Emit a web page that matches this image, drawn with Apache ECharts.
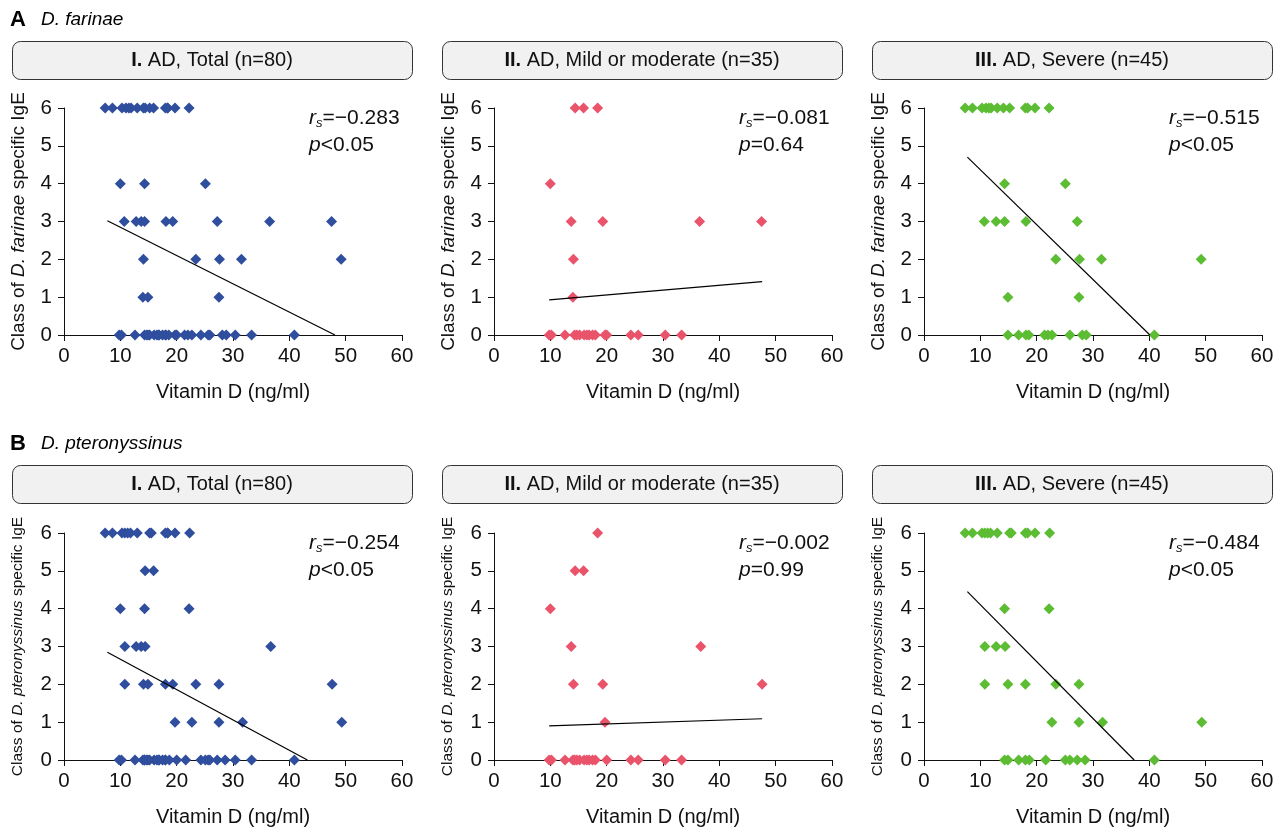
<!DOCTYPE html>
<html>
<head>
<meta charset="utf-8">
<script src="https://cdn.jsdelivr.net/npm/echarts@6/dist/echarts.min.js"></script>
<style>
html,body{margin:0;padding:0;background:#fff;}
#c{width:1285px;height:829px;}
</style>
</head>
<body>
<div id="c"></div>
<script>
// ---------- data ----------
const xTicks = [0, 10, 20, 30, 40, 50, 60];
const yTicks = [0, 1, 2, 3, 4, 5, 6];

// D. farinae — [vitamin D (ng/ml), IgE class]
const dfMild = [
  [14.4,6],[15.9,6],[18.4,6],
  [10.0,4],
  [13.7,3],[19.3,3],[36.5,3],[47.5,3],
  [14.1,2],
  [14.0,1],
  [9.8,0],[10.2,0],[12.6,0],[14.3,0],[14.7,0],[15.2,0],[16.0,0],[16.5,0],[16.9,0],
  [17.5,0],[18.0,0],[19.7,0],[20.0,0],[24.3,0],[25.6,0],[30.4,0],[33.3,0]
];
const dfSevere = [
  [7.3,6],[8.6,6],[10.3,6],[11.0,6],[11.5,6],[11.9,6],[13.0,6],[14.1,6],[15.2,6],
  [18.0,6],[18.4,6],[19.7,6],[22.2,6],
  [14.3,4],[25.1,4],
  [10.7,3],[12.8,3],[14.3,3],[18.1,3],[27.2,3],
  [23.4,2],[27.6,2],[31.5,2],[49.2,2],
  [14.9,1],[27.5,1],
  [14.9,0],[16.8,0],[18.1,0],[18.6,0],[21.4,0],[22.0,0],[22.7,0],[25.9,0],[28.1,0],[28.8,0],[40.9,0]
];
// D. pteronyssinus
const dpMild = [
  [18.4,6],
  [14.4,5],[15.9,5],
  [10.0,4],
  [13.7,3],[36.7,3],
  [14.1,2],[19.3,2],[47.6,2],
  [19.7,1],
  [9.8,0],[10.2,0],[12.6,0],[14.0,0],[14.3,0],[14.7,0],[15.2,0],[16.0,0],[16.5,0],
  [16.9,0],[17.5,0],[18.0,0],[20.0,0],[24.3,0],[25.6,0],[30.4,0],[33.3,0]
];
const dpSevere = [
  [7.3,6],[8.6,6],[10.3,6],[10.8,6],[11.3,6],[11.8,6],[13.0,6],[15.2,6],[15.5,6],
  [18.0,6],[18.4,6],[19.7,6],[22.3,6],
  [14.3,4],[22.2,4],
  [10.8,3],[12.8,3],[14.4,3],
  [10.8,2],[14.9,2],[18.0,2],[23.4,2],[27.5,2],
  [22.7,1],[27.5,1],[31.7,1],[49.3,1],
  [14.3,0],[14.9,0],[16.8,0],[18.0,0],[18.7,0],[21.6,0],[25.1,0],[25.9,0],[27.2,0],[28.6,0],[40.9,0]
];

// regression lines (endpoints)
const trendDF = [
  [[7.7,3.02],[48.1,0]],
  [[9.8,0.93],[47.6,1.41]],
  [[7.7,4.70],[40.1,0]]
];
const trendDP = [
  [[7.7,2.85],[43.2,0]],
  [[9.8,0.90],[47.6,1.09]],
  [[7.7,4.45],[37.3,0]]
];

const rsDF = ['−0.283','−0.081','−0.515'];
const pDF  = ['<0.05','=0.64','<0.05'];
const rsDP = ['−0.254','−0.002','−0.484'];
const pDP  = ['<0.05','=0.99','<0.05'];

const numerals = ['I.','II.','III.'];
const groupLabels = ['AD, Total (n=80)','AD, Mild or moderate (n=35)','AD, Severe (n=45)'];
const sectionLetters = ['A','B'];
const sectionNames = ['D. farinae','D. pteronyssinus'];
const yNameItalic = ['D. farinae','D. pteronyssinus'];
const xName = 'Vitamin D (ng/ml)';

// ---------- layout ----------
const FONT = '"Liberation Sans", Arial, Helvetica, sans-serif';
const colors = ['#2F4E9E','#E9546B','#5CBC33'];
const lefts = [64, 494, 924];
const plotW = 338;
const tops = [108, 533];
const plotH = 227;
const headerTop = [41, 465];

const panelData = [
  [dfMild.concat(dfSevere), dfMild, dfSevere],
  [dpMild.concat(dpSevere), dpMild, dpSevere]
];
const trends = [trendDF, trendDP];
const rsAll = [rsDF, rsDP];
const pAll = [pDF, pDP];

const grid = [], xAxis = [], yAxis = [], series = [], graphic = [];
let idx = 0;
for (let r = 0; r < 2; r++) {
  // section title
  graphic.push({type:'text', left:10, top:headerTop[r]-32,
    style:{text:sectionLetters[r], font:'bold 22px '+FONT, fill:'#000'}});
  graphic.push({type:'text', left:41, top:headerTop[r]-31,
    style:{text:sectionNames[r], font:'italic 19px '+FONT, fill:'#000'}});
  for (let c = 0; c < 3; c++) {
    grid.push({left:lefts[c], top:tops[r], width:plotW, height:plotH, containLabel:false});
    xAxis.push({
      gridIndex:idx, type:'value', min:0, max:60, interval:10,
      name:xName, nameLocation:'middle', nameGap:47,
      nameTextStyle:{fontFamily:FONT, fontSize:20, color:'#111'},
      axisLine:{onZero:false, lineStyle:{color:'#111', width:1}},
      axisTick:{show:true, length:6, inside:false, lineStyle:{color:'#111'}},
      axisLabel:{fontFamily:FONT, fontSize:20.5, color:'#111', margin:11,
        formatter:(v)=> xTicks.includes(v) ? String(v) : ''},
      splitLine:{show:false}
    });
    const ynFont = r === 0 ? 19 : 15.5;
    yAxis.push({
      gridIndex:idx, type:'value', min:0, max:6, interval:1,
      name:'Class of {i|' + yNameItalic[r] + '} specific IgE',
      nameLocation:'middle', nameGap: r === 0 ? 36 : 38, nameRotate:90,
      nameTextStyle:{fontFamily:FONT, fontSize:ynFont, color:'#111',
        rich:{i:{fontFamily:FONT, fontSize:ynFont, fontStyle:'italic', color:'#111'}}},
      axisLine:{show:true, lineStyle:{color:'#111', width:1}},
      axisTick:{show:true, length:6, lineStyle:{color:'#111'}},
      axisLabel:{fontFamily:FONT, fontSize:20.5, color:'#111', margin:12,
        formatter:(v)=> yTicks.includes(v) ? String(v) : ''},
      splitLine:{show:false}
    });
    series.push({
      type:'scatter', xAxisIndex:idx, yAxisIndex:idx, data:panelData[r][c],
      symbol:'diamond', symbolSize:[11,11], clip:false,
      itemStyle:{color:colors[c], opacity:1}, z:3
    });
    series.push({
      type:'line', xAxisIndex:idx, yAxisIndex:idx, data:trends[r][c],
      symbol:'none', lineStyle:{color:'#000', width:1.2}, z:4, silent:true
    });
    // header box
    graphic.push({type:'rect', left:lefts[c]-52, top:headerTop[r],
      shape:{width:400, height:38, r:8},
      style:{fill:'#F1F1F1', stroke:'#333', lineWidth:1}});
    graphic.push({type:'text', x:lefts[c]+148, y:headerTop[r]+19,
      style:{text:'{b|'+numerals[c]+'} '+groupLabels[c], align:'center', verticalAlign:'middle',
        font:'20px '+FONT, fill:'#111',
        rich:{b:{font:'bold 20px '+FONT, fill:'#111'}}}});
    // stats annotation
    graphic.push({type:'text', x:lefts[c]+245, y:tops[r]+10,
      style:{text:'{r|r}{s|s}{t|='+rsAll[r][c]+'}', align:'left', verticalAlign:'middle',
        fill:'#111',
        rich:{
          r:{font:'italic 21px '+FONT, fill:'#111', lineHeight:24},
          s:{font:'italic 13px '+FONT, fill:'#111', lineHeight:10, verticalAlign:'bottom'},
          t:{font:'21px '+FONT, fill:'#111', lineHeight:24}
        }}});
    graphic.push({type:'text', x:lefts[c]+245, y:tops[r]+37,
      style:{text:'{p|p}{t|'+pAll[r][c]+'}', align:'left', verticalAlign:'middle',
        fill:'#111',
        rich:{
          p:{font:'italic 21px '+FONT, fill:'#111', lineHeight:24},
          t:{font:'21px '+FONT, fill:'#111', lineHeight:24}
        }}});
    idx++;
  }
}

const chart = echarts.init(document.getElementById('c'), null, {renderer:'canvas'});
chart.setOption({
  animation:false,
  backgroundColor:'#fff',
  textStyle:{fontFamily:FONT},
  grid, xAxis, yAxis, series, graphic
});
</script>
</body>
</html>
